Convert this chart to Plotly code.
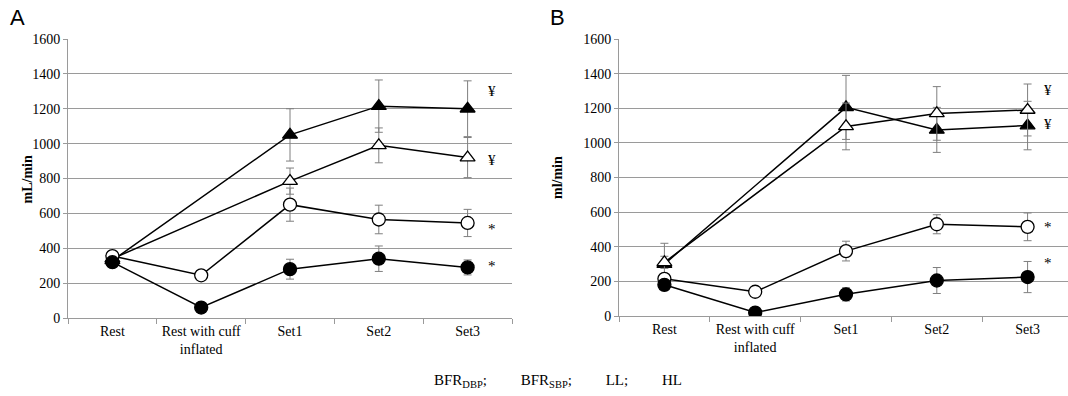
import plotly.graph_objects as go

W, H = 1068, 396

categories = ["Rest", "Rest with cuff inflated", "Set1", "Set2", "Set3"]
tick_labels = ["Rest", "Rest with cuff<br>inflated", "Set1", "Set2", "Set3"]

# Panel A
dbp_A = [355, 245, 650, 565, 545]
dbp_A_err = [30, 15, 95, 82, 78]
sbp_A = [320, 60, 280, 340, 290]
sbp_A_err = [30, 15, 57, 73, 43]
ll_A = [340, None, 785, 990, 920]
ll_A_err = [25, 0, 75, 100, 115]
hl_A = [330, None, 1050, 1215, 1200]
hl_A_err = [30, 0, 150, 150, 160]

# Panel B
dbp_B = [215, 140, 375, 530, 515]
dbp_B_err = [25, 10, 57, 55, 80]
sbp_B = [180, 20, 125, 205, 225]
sbp_B_err = [20, 10, 38, 75, 90]
ll_B = [310, None, 1095, 1170, 1190]
ll_B_err = [35, 0, 135, 155, 150]
hl_B = [300, None, 1205, 1075, 1100]
hl_B_err = [120, 0, 185, 130, 140]

# significance marks: (y value, text)
marks_A = [(1300, "¥"), (905, "¥"), (510, "*"), (298, "*")]
marks_B = [(1305, "¥"), (1110, "¥"), (514, "*"), (306, "*")]

legend_items = ["BFR<sub>DBP</sub>;", "BFR<sub>SBP</sub>;", "LL;", "HL"]

FONT = "Liberation Serif, Times New Roman, serif"
GRID = "#9a9a9a"
ERR = "#7f7f7f"

fig = go.Figure()

def add_series(y, err, symbol, fill, xa, ya, name):
    fig.add_trace(go.Scatter(
        x=categories, y=y, name=name, mode="lines+markers",
        connectgaps=True, xaxis=xa, yaxis=ya, showlegend=False,
        line=dict(color="black", width=1.5),
        marker=dict(symbol=symbol, size=13,
                    color=fill, line=dict(color="black", width=1.3)),
        error_y=dict(type="data", array=err, visible=True, color=ERR,
                     thickness=1, width=4),
    ))

for xa, ya, d in [("x", "y", (dbp_A, dbp_A_err, sbp_A, sbp_A_err, ll_A, ll_A_err, hl_A, hl_A_err)),
                  ("x2", "y2", (dbp_B, dbp_B_err, sbp_B, sbp_B_err, ll_B, ll_B_err, hl_B, hl_B_err))]:
    add_series(d[6], d[7], "triangle-up", "black", xa, ya, "HL")
    add_series(d[4], d[5], "triangle-up", "white", xa, ya, "LL")
    add_series(d[0], d[1], "circle", "white", xa, ya, "BFR_DBP")
    add_series(d[2], d[3], "circle", "black", xa, ya, "BFR_SBP")

def xaxis_cfg(domain, rng):
    return dict(domain=domain, range=rng, type="category", automargin=False,
                tickmode="array", tickvals=categories, ticktext=tick_labels,
                showgrid=False, showline=True, linecolor=GRID, linewidth=1,
                ticks="outside", tickson="boundaries", ticklen=5, tickcolor=GRID,
                tickfont=dict(family=FONT, size=14, color="black"),
                zeroline=False, fixedrange=True)

def yaxis_cfg(domain, anchor):
    return dict(domain=domain, range=[0, 1600], dtick=200, anchor=anchor, automargin=False,
                showgrid=True, gridcolor=GRID, gridwidth=1,
                showline=True, linecolor=GRID, linewidth=1,
                ticks="outside", ticklen=4, tickcolor=GRID,
                tickfont=dict(family=FONT, size=14, color="black"),
                zeroline=False, fixedrange=True)

xa_dom = [68 / W, 512 / W]
xb_dom = [619 / W, 1.0]
ya_dom = [1 - 318 / H, 1 - 39 / H]
yb_dom = [1 - 316 / H, 1 - 39 / H]

annotations = []
for yv, t in marks_A:
    annotations.append(dict(x=4.28, y=yv, xref="x", yref="y", text=t, showarrow=False,
                            font=dict(family=FONT, size=15, color="black")))
for yv, t in marks_B:
    annotations.append(dict(x=4.23, y=yv, xref="x2", yref="y2", text=t, showarrow=False,
                            font=dict(family=FONT, size=15, color="black")))

gap = "\u00a0" * 9
annotations += [
    dict(x=8 / W, y=1 - 18 / H, xref="paper", yref="paper", text="A", showarrow=False,
         xanchor="left", yanchor="middle", font=dict(family="Liberation Sans, Arial", size=22, color="black")),
    dict(x=548 / W, y=1 - 18 / H, xref="paper", yref="paper", text="B", showarrow=False,
         xanchor="left", yanchor="middle", font=dict(family="Liberation Sans, Arial", size=22, color="black")),
    dict(x=17 / W, y=1 - 180 / H, xref="paper", yref="paper", text="<b>mL/min</b>", showarrow=False,
         textangle=-90, font=dict(family=FONT, size=14, color="black")),
    dict(x=557 / W, y=1 - 178 / H, xref="paper", yref="paper", text="<b>ml/min</b>", showarrow=False,
         textangle=-90, font=dict(family=FONT, size=14, color="black")),
    dict(x=432 / W, y=1 - 392 / H, xref="paper", yref="paper", xanchor="left",
         text=gap.join(legend_items),
         showarrow=False, font=dict(family=FONT, size=15, color="black")),
]

fig.update_layout(
    width=W, height=H, margin=dict(l=0, r=0, t=0, b=0),
    paper_bgcolor="white", plot_bgcolor="white",
    xaxis=xaxis_cfg(xa_dom, [-0.5, 4.5]) | dict(anchor="y"),
    yaxis=yaxis_cfg(ya_dom, "x"),
    xaxis2=xaxis_cfg(xb_dom, [-0.5, 4.445]) | dict(anchor="y2"),
    yaxis2=yaxis_cfg(yb_dom, "x2"),
    annotations=annotations,
    showlegend=False,
)

fig.write_html("out.html", config={"displayModeBar": False},
               post_script="document.body.style.margin='0';document.body.style.overflow='hidden';")
